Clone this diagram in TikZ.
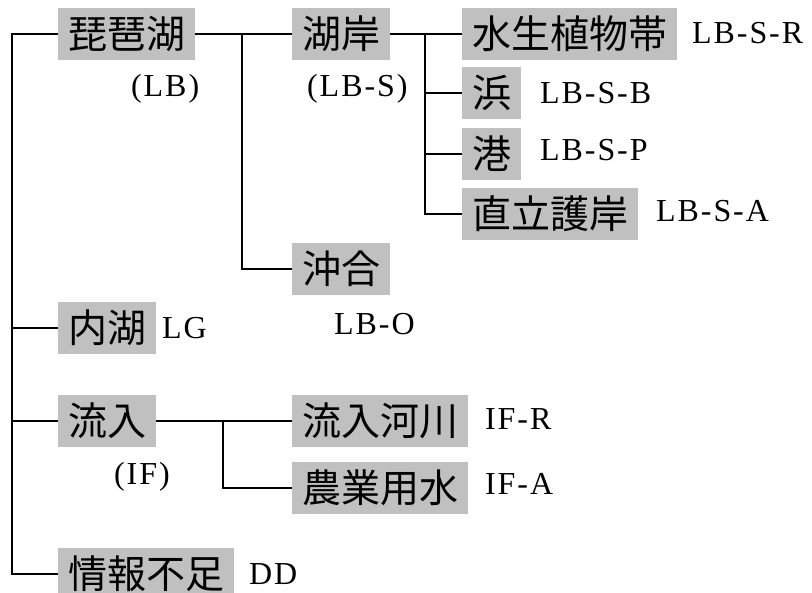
\documentclass[tikz,border=0pt]{standalone}
\usepackage{fontspec}
\setmainfont{Liberation Serif}
\newfontfamily\jpfont{Noto Sans CJK JP}
\newfontfamily\latfont[LetterSpace=6]{Liberation Serif}
\definecolor{boxgray}{HTML}{C0C0C0}
\tikzset{
 box/.style={fill=boxgray, anchor=west, inner xsep=10pt, inner ysep=0pt, minimum height=52pt, font=\jpfont\fontsize{39}{39}\selectfont},
 code/.style={anchor=base west, inner sep=0pt, font=\latfont\fontsize{32}{32}\selectfont},
 conn/.style={line width=1.3pt}
}
\begin{document}
\begin{tikzpicture}[x=1pt,y=-1pt]
\useasboundingbox (0,0) rectangle (812,593);
\node[box] (lb) at (58,34) {琵琶湖};
\node[box] (ls) at (292,34) {湖岸};
\node[box] (lo) at (292,269) {沖合};
\node[box] (lsr) at (462,34) {水生植物帯};
\node[box] (lsb) at (462,93) {浜};
\node[box] (lsp) at (462,154) {港};
\node[box] (lsa) at (462,214) {直立護岸};
\node[box] (lg) at (58,328) {内湖};
\node[box] (inf) at (58,421) {流入};
\node[box] (ifr) at (292,421) {流入河川};
\node[box] (ifa) at (292,488) {農業用水};
\node[box] (dd) at (58,574) {情報不足};
\node[code] (tLB) at (131,97) {(LB)};
\node[code] (tLS) at (307,97) {(LB-S)};
\node[code] (tLSR) at (692,44) {LB-S-R};
\node[code] (tLSB) at (540,104) {LB-S-B};
\node[code] (tLSP) at (540,161) {LB-S-P};
\node[code] (tLSA) at (656,222) {LB-S-A};
\node[code] (tLO) at (334,335) {LB-O};
\node[code] (tLG) at (162,339) {LG};
\node[code] (tIF) at (114,485) {(IF)};
\node[code] (tIFR) at (485,430) {IF-R};
\node[code] (tIFA) at (485,495) {IF-A};
\node[code] (tDD) at (249,585) {DD};
\coordinate (trunk) at (12,34);
\coordinate (b1) at (242,34);
\coordinate (b2) at (425,34);
\coordinate (b3) at (223,421);
\draw[conn] (lb.west) -- (trunk) |- (dd.west);
\draw[conn] (trunk) |- (lg.west);
\draw[conn] (trunk) |- (inf.west);
\draw[conn] (lb.east) -- (ls.west);
\draw[conn] (b1) |- (lo.west);
\draw[conn] (ls.east) -- (lsr.west);
\draw[conn] (b2) |- (lsb.west);
\draw[conn] (b2) |- (lsp.west);
\draw[conn] (b2) |- (lsa.west);
\draw[conn] (inf.east) -- (ifr.west);
\draw[conn] (b3) |- (ifa.west);
\end{tikzpicture}
\end{document}
